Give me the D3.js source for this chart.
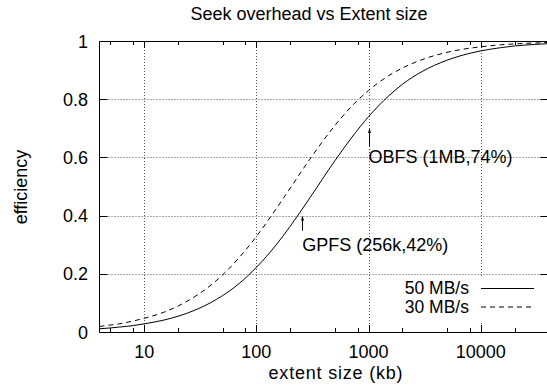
<!DOCTYPE html>
<html>
<head>
<meta charset="utf-8">
<script src="https://cdn.jsdelivr.net/npm/d3@7"></script>
<style>
  html, body { margin: 0; padding: 0; background: #fff; }
  svg { display: block; }
  text { font-family: "Liberation Sans", Arial, Helvetica, sans-serif; fill: #000; }
</style>
</head>
<body>
<svg id="chart" width="547" height="392"></svg>
<script>
// ---- data ----
const extentKb = [4, 5, 6, 8, 10, 15, 20, 30, 50, 70, 100, 150, 200, 300, 500, 700, 1000, 1500, 2000, 3000, 5000, 7000, 10000, 15000, 20000, 30000, 40000];
const eff50 = [0.011, 0.014, 0.017, 0.022, 0.028, 0.041, 0.054, 0.079, 0.125, 0.166, 0.222, 0.299, 0.363, 0.461, 0.588, 0.666, 0.740, 0.810, 0.851, 0.895, 0.934, 0.952, 0.966, 0.977, 0.983, 0.988, 0.991];
const eff30 = [0.019, 0.024, 0.028, 0.038, 0.047, 0.068, 0.089, 0.128, 0.196, 0.255, 0.328, 0.423, 0.494, 0.594, 0.709, 0.774, 0.830, 0.880, 0.907, 0.936, 0.961, 0.972, 0.980, 0.987, 0.990, 0.993, 0.995];
const seriesNames = ["50 MB/s", "30 MB/s"];
const xMajorTicks = [10, 100, 1000, 10000];
const xMinorTicks = [5, 8, 20, 50, 80, 200, 500, 800, 2000, 5000, 8000, 20000];
const yTicks = [0, 0.2, 0.4, 0.6, 0.8, 1];
const yTickLabels = ["0", "0.2", "0.4", "0.6", "0.8", "1"];
const annotations = [
  { label: "OBFS (1MB,74%)", x: 1000, yTip: 0.701, yTail: 0.637, yText: 0.580 },
  { label: "GPFS (256k,42%)", x: 256, yTip: 0.400, yTail: 0.348, yText: 0.278 }
];
const titleText = "Seek overhead vs Extent size";
const xLabel = "extent size (kb)";
const yLabel = "efficiency";

// ---- layout ----
const L = 99.5, R = 548.3, T = 41, B = 332;
const svg = d3.select("#chart");
const x = d3.scaleLog().domain([4, 40000]).range([L, R]);
const y = d3.scaleLinear().domain([0, 1]).range([B, T]);
const FONT = "18px";

// grid
const grid = svg.append("g").attr("stroke", "#555").attr("stroke-width", 1).attr("stroke-dasharray", "1,2");
grid.selectAll("line.gx").data(xMajorTicks).join("line")
  .attr("x1", d => Math.round(x(d)) + 0.5).attr("x2", d => Math.round(x(d)) + 0.5)
  .attr("y1", T).attr("y2", B);
grid.selectAll("line.gy").data(yTicks.filter(v => v > 0 && v < 1)).join("line")
  .attr("x1", L).attr("x2", R)
  .attr("y1", d => Math.round(y(d)) + 0.5).attr("y2", d => Math.round(y(d)) + 0.5);

// legend background (opaque key)
svg.append("rect").attr("x", 396).attr("y", 278).attr("width", 151).attr("height", 43).attr("fill", "#fff");

// ticks
const tk = svg.append("g").attr("stroke", "#000").attr("stroke-width", 1);
xMajorTicks.forEach(v => {
  const px = Math.round(x(v)) + 0.5;
  tk.append("line").attr("x1", px).attr("x2", px).attr("y1", B).attr("y2", B - 7);
  tk.append("line").attr("x1", px).attr("x2", px).attr("y1", T).attr("y2", T + 7);
});
xMinorTicks.forEach(v => {
  const px = Math.round(x(v)) + 0.5;
  tk.append("line").attr("x1", px).attr("x2", px).attr("y1", B).attr("y2", B - 4);
  tk.append("line").attr("x1", px).attr("x2", px).attr("y1", T).attr("y2", T + 4);
});
yTicks.forEach(v => {
  const py = Math.round(y(v)) + 0.5;
  tk.append("line").attr("x1", L).attr("x2", L + 8).attr("y1", py).attr("y2", py);
  tk.append("line").attr("x1", R).attr("x2", R - 8).attr("y1", py).attr("y2", py);
});

// border
svg.append("path").attr("fill", "none").attr("stroke", "#000").attr("stroke-width", 1)
  .attr("d", `M${R},${T + 0.5}H${L}V${B + 0.5}H${R}`);

// tick labels
svg.append("g").selectAll("text").data(yTicks).join("text")
  .attr("x", 88).attr("y", d => y(d) + 6.5).attr("text-anchor", "end")
  .style("font-size", FONT).text((d, i) => yTickLabels[i]);
svg.append("g").selectAll("text").data(xMajorTicks).join("text")
  .attr("x", d => x(d)).attr("y", 358).attr("text-anchor", "middle")
  .style("font-size", FONT).text(d => d3.format("d")(d));

// titles
svg.append("text").attr("x", 309).attr("y", 20).attr("text-anchor", "middle").style("font-size", FONT).text(titleText);
svg.append("text").attr("x", 336).attr("y", 378.5).attr("text-anchor", "middle")
  .style("font-size", FONT).style("letter-spacing", "0.8px").text(xLabel);
svg.append("text").attr("transform", "translate(27,187) rotate(-90)").attr("text-anchor", "middle").style("font-size", FONT).text(yLabel);

// curves
svg.append("clipPath").attr("id", "plotclip").append("rect").attr("x", L).attr("y", T).attr("width", R - L).attr("height", B - T);
const line = d3.line().x((d, i) => x(extentKb[i])).y(d => y(d)).curve(d3.curveMonotoneX);
const plot = svg.append("g").attr("clip-path", "url(#plotclip)");
plot.append("path").attr("d", line(eff50)).attr("fill", "none").attr("stroke", "#000").attr("stroke-width", 1);
plot.append("path").attr("d", line(eff30)).attr("fill", "none").attr("stroke", "#000").attr("stroke-width", 1).attr("stroke-dasharray", "5,4");

// annotations
annotations.forEach(a => {
  const px = Math.round(x(a.x)) + 0.5;
  const tip = y(a.yTip), tail = y(a.yTail);
  svg.append("line").attr("x1", px).attr("x2", px).attr("y1", tail).attr("y2", tip + 3).attr("stroke", "#000").attr("stroke-width", 1);
  svg.append("path").attr("d", `M${px},${tip}L${px - 1.5},${tip + 5}L${px + 1.5},${tip + 5}Z`).attr("fill", "#000");
  svg.append("text").attr("x", x(a.x)).attr("y", y(a.yText)).style("font-size", FONT).text(a.label);
});

// legend
const legY = [288.5, 307];
seriesNames.forEach((n, i) => {
  svg.append("text").attr("x", 469).attr("y", legY[i] + 5.5).attr("text-anchor", "end").style("font-size", "17.5px").text(n);
  svg.append("line").attr("x1", 481).attr("x2", 534).attr("y1", legY[i]).attr("y2", legY[i])
    .attr("stroke", "#000").attr("stroke-width", 1).attr("stroke-dasharray", i === 1 ? "5,4" : null);
});
</script>
</body>
</html>
